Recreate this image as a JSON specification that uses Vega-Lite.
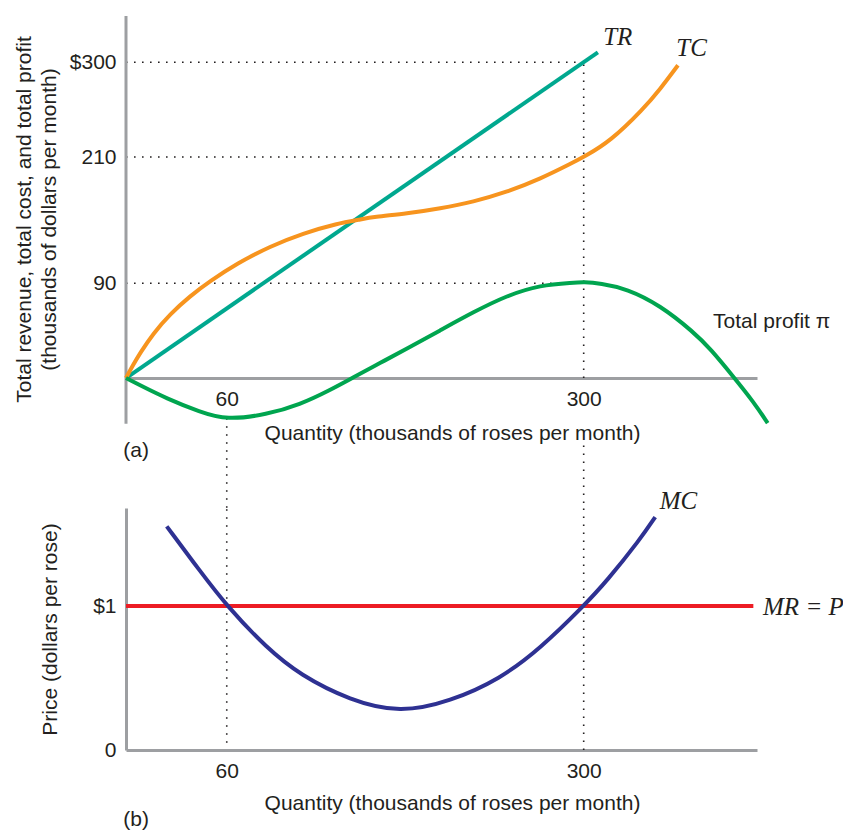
{
  "$schema": "https://vega.github.io/schema/vega-lite/v6.json",
  "background": "white",
  "padding": {"left": 13, "top": 14, "right": 0, "bottom": 0},
  "spacing": 0,
  "bounds": "flush",
  "resolve": {"scale": {"color": "independent"}},
  "vconcat": [
    {
      "width": 631,
      "height": 492,
      "encoding": {
        "x": {
          "field": "q", "type": "quantitative",
          "scale": {"type": "pow", "exponent": 0.9404, "domain": [0, 422.1], "zero": false, "nice": false},
          "axis": {"orient": "bottom", "offset": -130, "values": [60, 300], "labelBaseline": "alphabetic", "labelPadding": 27, "labelAlign": "center", "labelFlush": false,
                   "title": "Quantity (thousands of roses per month)", "titleX": 326, "titleY": 61, "titleAlign": "center", "titleBaseline": "alphabetic"}
        },
        "y": {
          "field": "v", "type": "quantitative",
          "scale": {"domain": [-123.5, 344], "zero": false, "nice": false},
          "axis": {"values": [90, 210, 300], "domain": false, "labelPadding": 10, "labelExpr": "datum.value == 300 ? '$300' : datum.label",
                   "title": ["Total revenue, total cost, and total profit", "(thousands of dollars per month)"],
                   "titleX": -95.7, "titleY": 203, "titleAngle": 270, "titleAlign": "center", "titleBaseline": "alphabetic", "titleLineHeight": 25.3}
        }
      },
      "layer": [
        {
          "data": {"values": [
            {"q": 0, "q2": 300, "v": 300},
            {"q": 0, "q2": 300, "v": 210},
            {"q": 0, "q2": 300, "v": 90}
          ]},
          "mark": {"type": "rule", "color": "#231f20", "strokeWidth": 1.6, "strokeDash": [1.6, 6.4]},
          "encoding": {"x2": {"field": "q2"}}
        },
        {
          "data": {"values": [
            {"q": 300, "v": 0, "v2": 300},
            {"q": 300, "v": -64, "v2": -123.5},
            {"q": 60, "v": -38.2, "v2": -123.5}
          ]},
          "mark": {"type": "rule", "color": "#231f20", "strokeWidth": 1.6, "strokeDash": [1.6, 6.4]},
          "encoding": {"y2": {"field": "v2"}}
        },
        {
          "data": {"values": [{"q": 0, "v": -43.4, "v2": 344}]},
          "mark": {"type": "rule", "color": "#9d9fa2", "strokeWidth": 3},
          "encoding": {"y2": {"field": "v2"}}
        },
        {
          "data": {"values": [
            {"series": "TR", "q": 0, "v": 0},
            {"series": "TR", "q": 309.9, "v": 309.5},
            {"series": "TC", "q": 0, "v": 0},
            {"series": "TC", "q": 3.5, "v": 12.2},
            {"series": "TC", "q": 7.4, "v": 23.6},
            {"series": "TC", "q": 14.8, "v": 42.1},
            {"series": "TC", "q": 24.9, "v": 60.7},
            {"series": "TC", "q": 37.0, "v": 77.8},
            {"series": "TC", "q": 49.5, "v": 92.1},
            {"series": "TC", "q": 66.5, "v": 108.8},
            {"series": "TC", "q": 87.8, "v": 125.2},
            {"series": "TC", "q": 109.3, "v": 137.5},
            {"series": "TC", "q": 131.8, "v": 146.8},
            {"series": "TC", "q": 147.1, "v": 150.6},
            {"series": "TC", "q": 155.8, "v": 153.0},
            {"series": "TC", "q": 178.7, "v": 156.3},
            {"series": "TC", "q": 201.1, "v": 161.1},
            {"series": "TC", "q": 223.6, "v": 167.3},
            {"series": "TC", "q": 247.0, "v": 176.8},
            {"series": "TC", "q": 269.8, "v": 189.1},
            {"series": "TC", "q": 292.7, "v": 204.8},
            {"series": "TC", "q": 300, "v": 210},
            {"series": "TC", "q": 318.5, "v": 224.8},
            {"series": "TC", "q": 341.7, "v": 255.6},
            {"series": "TC", "q": 353.6, "v": 274.6},
            {"series": "TC", "q": 366.1, "v": 297.2},
            {"series": "Profit", "q": 0, "v": 0},
            {"series": "Profit", "q": 7.4, "v": -6.9},
            {"series": "Profit", "q": 22.9, "v": -19.5},
            {"series": "Profit", "q": 43.2, "v": -32.3},
            {"series": "Profit", "q": 60, "v": -39.9},
            {"series": "Profit", "q": 85.6, "v": -34.7},
            {"series": "Profit", "q": 107.3, "v": -25.2},
            {"series": "Profit", "q": 127.1, "v": -11.4},
            {"series": "Profit", "q": 141.7, "v": 0},
            {"series": "Profit", "q": 160.5, "v": 14.3},
            {"series": "Profit", "q": 178.5, "v": 28.0},
            {"series": "Profit", "q": 201.1, "v": 45.3},
            {"series": "Profit", "q": 223.8, "v": 62.7},
            {"series": "Profit", "q": 246.8, "v": 78.4},
            {"series": "Profit", "q": 269.8, "v": 88.4},
            {"series": "Profit", "q": 292.9, "v": 90.6},
            {"series": "Profit", "q": 300, "v": 91.2},
            {"series": "Profit", "q": 311.5, "v": 90.0},
            {"series": "Profit", "q": 330.2, "v": 84.9},
            {"series": "Profit", "q": 353.6, "v": 69.1},
            {"series": "Profit", "q": 377.1, "v": 43.7},
            {"series": "Profit", "q": 389.0, "v": 27.8},
            {"series": "Profit", "q": 405.5, "v": 0.95},
            {"series": "Profit", "q": 419.7, "v": -22.8},
            {"series": "Profit", "q": 429.7, "v": -42.8}
          ]},
          "mark": {"type": "line", "strokeWidth": 4, "interpolate": "basis"},
          "encoding": {
            "color": {"field": "series", "type": "nominal", "legend": null,
                      "scale": {"domain": ["TR", "TC", "Profit"], "range": ["#00a88f", "#f7941e", "#00a54f"]}}
          }
        },
        {
          "data": {"values": [
            {"q": 390.9, "v": 47.5, "label": "Total profit π"},
            {"q": -1.3, "v": -75.1, "label": "(a)"}
          ]},
          "mark": {"type": "text", "align": "left", "baseline": "alphabetic", "font": "Liberation Sans", "fontSize": 21, "color": "#231f20"},
          "encoding": {"text": {"field": "label"}}
        },
        {
          "data": {"values": [
            {"q": 313.6, "v": 316.4, "label": "TR"},
            {"q": 364.9, "v": 306.0, "label": "TC"}
          ]},
          "mark": {"type": "text", "align": "left", "baseline": "alphabetic", "font": "Liberation Serif", "fontStyle": "italic", "fontSize": 25, "color": "#231f20"},
          "encoding": {"text": {"field": "label"}}
        }
      ]
    },
    {
      "width": 631,
      "height": 242,
      "encoding": {
        "x": {
          "field": "q", "type": "quantitative",
          "scale": {"type": "pow", "exponent": 0.9404, "domain": [0, 422.1], "zero": false, "nice": false},
          "axis": {"values": [60, 300], "labelBaseline": "alphabetic", "labelPadding": 27, "labelAlign": "center", "labelFlush": false,
                   "title": "Quantity (thousands of roses per month)", "titleX": 326, "titleY": 59, "titleAlign": "center", "titleBaseline": "alphabetic"}
        },
        "y": {
          "field": "v", "type": "quantitative",
          "scale": {"domain": [0, 1.6806], "zero": false, "nice": false},
          "axis": {"values": [0, 1], "labelPadding": 10, "labelExpr": "datum.value == 1 ? '$1' : '0'",
                   "title": "Price (dollars per rose)", "titleX": -69.7, "titleY": 121, "titleAngle": 270, "titleAlign": "center", "titleBaseline": "alphabetic"}
        }
      },
      "layer": [
        {
          "data": {"values": [
            {"q": 60, "v": 0.05, "v2": 1.6806},
            {"q": 300, "v": 0, "v2": 1.6806}
          ]},
          "mark": {"type": "rule", "color": "#231f20", "strokeWidth": 1.6, "strokeDash": [1.6, 6.4]},
          "encoding": {"y2": {"field": "v2"}}
        },
        {
          "data": {"values": [
            {"q": 0, "v": 1},
            {"q": 419.5, "v": 1}
          ]},
          "mark": {"type": "line", "strokeWidth": 4, "color": "#ed1c24"},
          "encoding": {}
        },
        {
          "data": {"values": [
            {"q": 22.9, "v": 1.553},
            {"q": 43.2, "v": 1.243},
            {"q": 60, "v": 1.0},
            {"q": 85.6, "v": 0.708},
            {"q": 107.3, "v": 0.521},
            {"q": 140.4, "v": 0.344},
            {"q": 173.9, "v": 0.257},
            {"q": 207.9, "v": 0.337},
            {"q": 242.1, "v": 0.493},
            {"q": 269.8, "v": 0.705},
            {"q": 300, "v": 1.0},
            {"q": 316.2, "v": 1.174},
            {"q": 339.6, "v": 1.465},
            {"q": 350.1, "v": 1.618}
          ]},
          "mark": {"type": "line", "strokeWidth": 4, "color": "#2e3192", "interpolate": "basis"},
          "encoding": {}
        },
        {
          "data": {"values": [
            {"q": -1.3, "v": -0.525, "label": "(b)"}
          ]},
          "mark": {"type": "text", "align": "left", "baseline": "alphabetic", "font": "Liberation Sans", "fontSize": 21, "color": "#231f20"},
          "encoding": {"text": {"field": "label"}}
        },
        {
          "data": {"values": [
            {"q": 353.2, "v": 1.674, "label": "MC"},
            {"q": 426.4, "v": 0.9375, "label": "MR = P"}
          ]},
          "mark": {"type": "text", "align": "left", "baseline": "alphabetic", "font": "Liberation Serif", "fontStyle": "italic", "fontSize": 25, "color": "#231f20"},
          "encoding": {"text": {"field": "label"}}
        }
      ]
    }
  ],
  "config": {
    "view": {"stroke": null},
    "font": "Liberation Sans",
    "axis": {
      "domainColor": "#9d9fa2", "domainWidth": 3, "ticks": false, "tickSize": 0, "grid": false,
      "labelFont": "Liberation Sans", "labelFontSize": 21, "labelColor": "#231f20",
      "titleFont": "Liberation Sans", "titleFontSize": 21, "titleFontWeight": "normal", "titleColor": "#231f20"
    }
  }
}
